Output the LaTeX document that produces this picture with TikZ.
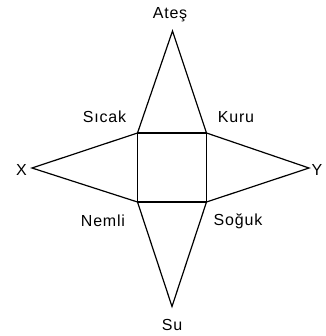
\documentclass[tikz,border=0pt]{standalone}
\usepackage{fontspec}
\setmainfont[LetterSpace=5]{Liberation Sans}
\usetikzlibrary{positioning}
\begin{document}
\begin{tikzpicture}[x=1pt, y=-1pt,
  lbl/.style={font=\fontsize{16}{18}\selectfont, inner sep=0pt, anchor=base},
  side/.style={line width=1.2pt, line join=miter},
  sq/.style={line width=1.6pt}
]
  \useasboundingbox (0,0) rectangle (325,336);
  % square corners and star tips
  \coordinate (tl) at (137.5,133);
  \coordinate (tr) at (206.5,133);
  \coordinate (bl) at (137.5,202);
  \coordinate (br) at (206.5,202);
  \coordinate (top) at (172.5,31);
  \coordinate (bot) at (172,306.5);
  \coordinate (lft) at (32,168);
  \coordinate (rgt) at (309,168);
  \draw[side] (tl) -- (top) -- (tr);
  \draw[side] (bl) -- (bot) -- (br);
  \draw[side] (tl) -- (lft) -- (bl);
  \draw[side] (tr) -- (rgt) -- (br);
  \draw[sq] (tl) rectangle (br);
  % labels
  \node[lbl] (ates) at (170,18.5) {Ateş};
  \node[lbl] (su) at (172,330) {Su};
  \node[lbl] (x) at (21.5,175.5) {X};
  \node[lbl] (y) at (317,175.5) {Y};
  \node[lbl] (sicak) at (104.5,123) {Sıcak};
  \node[lbl] (kuru) at (236,123) {Kuru};
  \node[lbl] (nemli) at (103,226) {Nemli};
  \node[lbl] (soguk) at (238,225.5) {Soğuk};
\end{tikzpicture}
\end{document}
